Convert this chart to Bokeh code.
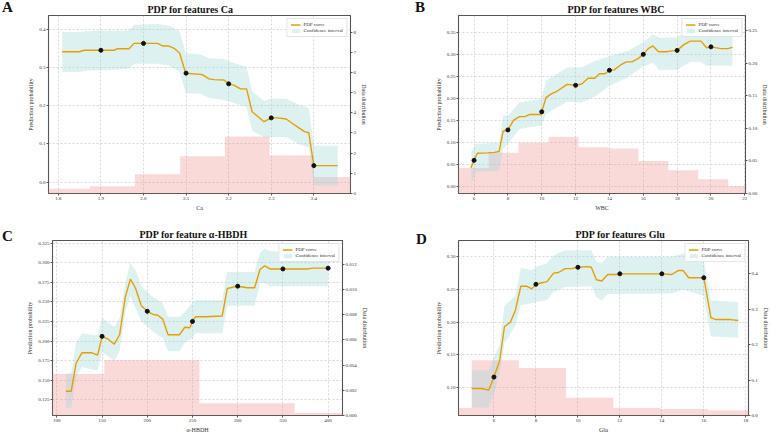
from bokeh.plotting import figure
from bokeh.models import (Range1d, LinearAxis, FixedTicker, PrintfTickFormatter,
                          Legend, LegendItem, Div)
from bokeh.layouts import row, column
from bokeh.embed import file_html
from bokeh.resources import INLINE

# ---------------- data ----------------
# Panel A : Ca
ca_hist_edges = [1.769, 1.874, 1.980, 2.086, 2.191, 2.296, 2.400, 2.505]
ca_hist_vals = [0.23, 0.36, 0.95, 1.85, 2.82, 1.88, 0.82]
ca_x = [1.809, 1.849, 1.861, 1.900, 1.931, 1.939, 1.966, 1.978, 2.000, 2.033, 2.046, 2.060,
        2.072, 2.085, 2.099, 2.133, 2.138, 2.154, 2.166, 2.189, 2.200, 2.213, 2.228, 2.242,
        2.255, 2.267, 2.283, 2.300, 2.314, 2.335, 2.349, 2.365, 2.378, 2.388, 2.400, 2.456]
ca_y = [0.341, 0.341, 0.345, 0.345, 0.345, 0.349, 0.349, 0.363, 0.363, 0.363, 0.356, 0.356,
        0.350, 0.337, 0.285, 0.282, 0.281, 0.270, 0.268, 0.267, 0.257, 0.253, 0.244, 0.244,
        0.184, 0.173, 0.158, 0.168, 0.168, 0.165, 0.154, 0.142, 0.132, 0.129, 0.043, 0.043]
ca_ci_x = [1.809, 1.849, 1.869, 1.900, 1.931, 1.966, 1.978, 2.033, 2.060, 2.085, 2.099, 2.134,
           2.154, 2.189, 2.213, 2.242, 2.255, 2.283, 2.300, 2.335, 2.365, 2.388, 2.400, 2.456]
ca_ci_hi = [0.393, 0.393, 0.395, 0.397, 0.397, 0.397, 0.412, 0.414, 0.409, 0.395, 0.337, 0.334,
            0.324, 0.322, 0.311, 0.302, 0.238, 0.212, 0.219, 0.218, 0.203, 0.194, 0.095, 0.095]
ca_ci_lo = [0.288, 0.288, 0.292, 0.292, 0.294, 0.297, 0.310, 0.310, 0.305, 0.289, 0.233, 0.231,
            0.220, 0.215, 0.207, 0.196, 0.134, 0.117, 0.118, 0.117, 0.099, 0.091, -0.009, -0.009]
ca_dot_x = [1.9, 2.0, 2.1, 2.2, 2.3, 2.4]
ca_dot_y = [0.345, 0.363, 0.285, 0.257, 0.168, 0.043]
ca_xticks = [1.8, 1.9, 2.0, 2.1, 2.2, 2.3, 2.4]
ca_yticks = [0.0, 0.1, 0.2, 0.3, 0.4]
ca_hticks = [0, 1, 2, 3, 4, 5, 6, 7, 8]

# Panel B : WBC
wbc_hist_edges = [5.0, 6.86, 8.63, 10.40, 12.17, 13.94, 15.71, 17.48, 19.25, 21.02, 22.79]
wbc_hist_vals = [0.039, 0.0624, 0.078, 0.087, 0.071, 0.069, 0.050, 0.0355, 0.022, 0.011]
wbc_x = [5.81, 6.00, 6.19, 6.80, 7.19, 7.48, 7.72, 8.00, 8.34, 8.68, 9.01, 9.30, 9.97, 10.00,
         10.25, 10.54, 10.92, 11.50, 12.00, 12.36, 12.74, 13.13, 13.41, 13.74, 14.00, 14.28,
         14.66, 15.00, 15.33, 15.71, 16.00, 16.29, 16.57, 16.90, 17.34, 17.72, 18.00, 18.40,
         18.78, 19.41, 19.74, 20.00, 20.60, 20.98, 21.27]
wbc_y = [0.043, 0.060, 0.076, 0.077, 0.078, 0.080, 0.126, 0.129, 0.151, 0.159, 0.159, 0.164,
         0.164, 0.170, 0.202, 0.210, 0.217, 0.232, 0.230, 0.233, 0.246, 0.246, 0.256, 0.256,
         0.264, 0.265, 0.276, 0.283, 0.283, 0.291, 0.300, 0.313, 0.319, 0.306, 0.306, 0.308,
         0.309, 0.322, 0.330, 0.330, 0.315, 0.317, 0.313, 0.313, 0.316]
wbc_ci_x = [5.85, 6.08, 6.80, 7.48, 7.72, 8.00, 8.68, 9.30, 9.97, 10.25, 11.50, 12.36, 13.13,
            14.00, 15.04, 16.02, 16.57, 16.96, 18.01, 18.78, 19.41, 19.74, 21.27]
wbc_ci_hi = [0.079, 0.097, 0.099, 0.100, 0.161, 0.161, 0.191, 0.195, 0.199, 0.240, 0.270, 0.271,
             0.285, 0.296, 0.307, 0.328, 0.345, 0.337, 0.339, 0.361, 0.361, 0.356, 0.356]
wbc_ci_lo = [0.007, 0.034, 0.036, 0.036, 0.086, 0.097, 0.131, 0.135, 0.139, 0.165, 0.193, 0.191,
             0.204, 0.229, 0.247, 0.273, 0.281, 0.264, 0.266, 0.283, 0.283, 0.274, 0.274]
wbc_dot_x = [6, 8, 10, 12, 14, 16, 18, 20]
wbc_dot_y = [0.060, 0.129, 0.170, 0.230, 0.264, 0.300, 0.309, 0.317]
wbc_xticks = [6, 8, 10, 12, 14, 16, 18, 20, 22]
wbc_yticks = [0.00, 0.05, 0.10, 0.15, 0.20, 0.25, 0.30, 0.35]
wbc_hticks = [0.00, 0.05, 0.10, 0.15, 0.20, 0.25]

# Panel C : alpha-HBDH
hb_hist_edges = [47.3, 152.5, 257.7, 363.0, 468.2]
hb_hist_vals = [0.0033, 0.00439, 0.00098, 0.0002]
hb_x = [110.0, 115.9, 121.4, 127.7, 138.8, 145.1, 150.0, 157.3, 163.5, 169.4, 175.7, 181.3,
        186.8, 193.5, 200.0, 206.4, 211.6, 217.1, 223.0, 235.6, 241.5, 247.0, 250.0, 253.3,
        264.4, 282.9, 288.4, 300.0, 310.6, 318.7, 324.6, 329.8, 335.7, 350.0, 377.0, 382.6, 400.0]
hb_y = [0.136, 0.136, 0.172, 0.185, 0.185, 0.182, 0.206, 0.202, 0.196, 0.208, 0.256, 0.279,
        0.268, 0.245, 0.238, 0.234, 0.233, 0.228, 0.208, 0.208, 0.2176, 0.217, 0.225, 0.231,
        0.231, 0.232, 0.267, 0.270, 0.268, 0.268, 0.291, 0.296, 0.292, 0.292, 0.292, 0.293, 0.293]
hb_ci_x = [110.0, 115.9, 121.4, 127.7, 145.1, 150.0, 163.5, 169.4, 175.7, 181.3, 186.8, 193.5,
           206.4, 217.1, 223.0, 235.6, 241.5, 250.0, 253.3, 282.9, 288.4, 318.7, 324.6, 329.8,
           335.7, 400.0]
hb_ci_hi = [0.158, 0.160, 0.198, 0.210, 0.207, 0.229, 0.218, 0.229, 0.274, 0.300, 0.291, 0.270,
            0.256, 0.249, 0.231, 0.231, 0.237, 0.249, 0.252, 0.252, 0.288, 0.288, 0.312, 0.318,
            0.315, 0.312]
hb_ci_lo = [0.115, 0.115, 0.154, 0.167, 0.162, 0.186, 0.175, 0.187, 0.237, 0.258, 0.243, 0.225,
            0.212, 0.204, 0.187, 0.187, 0.198, 0.204, 0.210, 0.210, 0.245, 0.245, 0.274, 0.274,
            0.270, 0.270]
hb_dot_x = [150, 200, 250, 300, 350, 400]
hb_dot_y = [0.206, 0.238, 0.225, 0.270, 0.292, 0.293]
hb_xticks = [100, 150, 200, 250, 300, 350, 400]
hb_yticks = [0.125, 0.150, 0.175, 0.200, 0.225, 0.250, 0.275, 0.300, 0.325]
hb_hticks = [0.000, 0.002, 0.004, 0.006, 0.008, 0.010, 0.012]

# Panel D : Glu
glu_hist_edges = [2.69, 4.94, 7.19, 9.44, 11.69, 13.94, 16.19, 18.44]
glu_hist_vals = [0.021, 0.156, 0.134, 0.050, 0.021, 0.018, 0.015]
glu_x = [4.94, 5.41, 5.75, 6.00, 6.27, 6.50, 6.78, 7.02, 7.28, 7.56, 7.80, 8.00, 8.22, 8.53,
         8.84, 9.08, 9.39, 9.70, 10.00, 10.44, 10.64, 10.88, 11.14, 11.42, 11.81, 12.00, 12.28,
         14.00, 14.47, 14.78, 15.02, 15.28, 16.00, 16.34, 16.58, 17.28, 17.64]
glu_y = [0.0985, 0.0985, 0.096, 0.116, 0.141, 0.193, 0.200, 0.218, 0.255, 0.255, 0.251, 0.258,
         0.260, 0.262, 0.275, 0.276, 0.282, 0.282, 0.284, 0.285, 0.284, 0.265, 0.263, 0.273,
         0.273, 0.274, 0.274, 0.274, 0.273, 0.279, 0.279, 0.268, 0.268, 0.207, 0.204, 0.204, 0.2025]
glu_ci_x = [4.94, 5.75, 6.00, 6.27, 6.50, 7.02, 7.28, 7.80, 8.00, 8.53, 8.84, 9.39, 10.64, 10.88,
            11.14, 11.42, 14.47, 15.02, 16.00, 16.34, 17.64]
glu_ci_hi = [0.126, 0.126, 0.146, 0.166, 0.225, 0.240, 0.283, 0.280, 0.285, 0.290, 0.302, 0.310,
             0.310, 0.293, 0.290, 0.300, 0.300, 0.305, 0.295, 0.233, 0.231]
glu_ci_lo = [0.070, 0.069, 0.091, 0.121, 0.168, 0.195, 0.226, 0.229, 0.231, 0.234, 0.246, 0.254,
             0.255, 0.238, 0.233, 0.243, 0.244, 0.250, 0.240, 0.178, 0.176]
glu_dot_x = [6, 8, 10, 12, 14, 16]
glu_dot_y = [0.116, 0.258, 0.284, 0.274, 0.274, 0.268]
glu_xticks = [6, 8, 10, 12, 14, 16, 18]
glu_yticks = [0.10, 0.15, 0.20, 0.25, 0.30]
glu_hticks = [0.0, 0.1, 0.2, 0.3, 0.4]

# ---------------- styling ----------------
FONT = "Liberation Serif"
ORANGE = "#e69f00"
CI_COLOR = "#9dd6d6"
PINK = "#f08080"


def style_axis(ax):
    ax.axis_line_color = None
    ax.major_tick_out = 2
    ax.major_tick_in = 0
    ax.minor_tick_line_color = None
    ax.major_tick_line_color = "#555555"
    ax.major_label_text_font = FONT
    ax.major_label_text_font_size = "5px"
    ax.major_label_text_color = "#333333"
    ax.major_label_standoff = 1
    ax.axis_label_text_font = FONT
    ax.axis_label_text_font_size = "6px"
    ax.axis_label_text_font_style = "normal"
    ax.axis_label_text_color = "#333333"
    ax.axis_label_standoff = 2


def panel(w, h, borders, xr, yr, hr, xticks, yticks, hticks, xfmt, yfmt, hfmt,
          xlabel, title, title_off, he, hv, cix, cilo, cihi, cx, cy, dx, dy):
    bl, br, bt, bb = borders
    p = figure(width=w, height=h, output_backend="svg", toolbar_location=None,
               x_range=Range1d(*xr), y_range=Range1d(*yr),
               min_border_left=bl, min_border_right=br, min_border_top=bt,
               min_border_bottom=bb, background_fill_color="white",
               border_fill_color="white")
    p.outline_line_color = "#555555"
    p.outline_line_width = 1.1
    p.extra_y_ranges = {"h": Range1d(*hr)}

    p.title.text = title
    p.title.align = "left"
    p.title.offset = title_off
    p.title.standoff = 2
    p.title.text_font = FONT
    p.title.text_font_style = "bold"
    p.title.text_font_size = "10px"
    p.title.text_color = "#111111"

    p.quad(left=he[:-1], right=he[1:], bottom=0, top=hv, y_range_name="h",
           fill_color=PINK, fill_alpha=0.3, line_color=None)
    ci_r = p.varea(x=cix, y1=cilo, y2=cihi, fill_color=CI_COLOR, fill_alpha=0.35)
    ln_r = p.line(cx, cy, line_color=ORANGE, line_width=1.4)
    p.scatter(dx, dy, size=4, color="#111111")

    style_axis(p.xaxis[0])
    style_axis(p.yaxis[0])
    p.xaxis[0].ticker = FixedTicker(ticks=xticks)
    p.xaxis[0].formatter = PrintfTickFormatter(format=xfmt)
    p.xaxis[0].axis_label = xlabel
    p.yaxis[0].ticker = FixedTicker(ticks=yticks)
    p.yaxis[0].formatter = PrintfTickFormatter(format=yfmt)
    p.yaxis[0].axis_label = "Prediction probability"

    rax = LinearAxis(y_range_name="h", axis_label="Data distribution",
                     ticker=FixedTicker(ticks=hticks),
                     formatter=PrintfTickFormatter(format=hfmt))
    style_axis(rax)
    p.add_layout(rax, "right")

    for g in (p.xgrid[0], p.ygrid[0]):
        g.grid_line_color = "#bbbbbb"
        g.grid_line_dash = "2 2"
        g.grid_line_width = 0.7
        g.grid_line_alpha = 0.8
    p.xgrid[0].ticker = FixedTicker(ticks=xticks)
    p.ygrid[0].ticker = FixedTicker(ticks=yticks)

    leg = Legend(items=[LegendItem(label="PDP curve", renderers=[ln_r]),
                        LegendItem(label="Confidence interval", renderers=[ci_r])],
                 location="top_right")
    leg.label_text_font = FONT
    leg.label_text_font_size = "5px"
    leg.label_text_color = "#333333"
    leg.label_height = 5
    leg.glyph_height = 5
    leg.glyph_width = 10
    leg.label_standoff = 3
    leg.spacing = 1
    leg.padding = 3
    leg.margin = 3
    leg.border_line_color = "#cccccc"
    leg.border_line_width = 0.8
    leg.background_fill_alpha = 0.85
    p.add_layout(leg)
    return p


def letter(t, left, top):
    html = ('<span style="font-family:\'Liberation Serif\',serif;font-weight:bold;'
            'font-size:15px;line-height:15px;color:#111111">%s</span>' % t)
    return Div(text=html, width=14, height=16, margin=0,
               styles={"position": "absolute", "left": "%dpx" % left,
                       "top": "%dpx" % top, "z-index": "10"})


pA = panel(385, 217, (48, 35, 13, 24), (1.777, 2.486), (-0.030, 0.436), (0, 8.82),
           ca_xticks, ca_yticks, ca_hticks, "%.1f", "%.1f", "%d",
           "Ca", "PDP for features Ca", 99,
           ca_hist_edges, ca_hist_vals, ca_ci_x, ca_ci_lo, ca_ci_hi,
           ca_x, ca_y, ca_dot_x, ca_dot_y)
pB = panel(386, 217, (73, 18, 14, 24), (5.08, 22.04), (-0.015, 0.388), (0, 0.273),
           wbc_xticks, wbc_yticks, wbc_hticks, "%d", "%.2f", "%.2f",
           "WBC", "PDP for features WBC", 109,
           wbc_hist_edges, wbc_hist_vals, wbc_ci_x, wbc_ci_lo, wbc_ci_hi,
           wbc_x, wbc_y, wbc_dot_x, wbc_dot_y)
pC = panel(385, 218, (52, 43, 23, 15), (95.2, 415.9), (0.105, 0.3283), (0, 0.0139),
           hb_xticks, hb_yticks, hb_hticks, "%d", "%.3f", "%.3f",
           "\u03b1-HBDH", "PDP for feature \u03b1-HBDH", 87,
           hb_hist_edges, hb_hist_vals, hb_ci_x, hb_ci_lo, hb_ci_hi,
           hb_x, hb_y, hb_dot_x, hb_dot_y)
pD = panel(386, 218, (73, 18, 23, 15), (4.31, 18.13), (0.0572, 0.325), (0, 0.494),
           glu_xticks, glu_yticks, glu_hticks, "%d", "%.2f", "%.1f",
           "Glu", "PDP for features Glu", 117,
           glu_hist_edges, glu_hist_vals, glu_ci_x, glu_ci_lo, glu_ci_hi,
           glu_x, glu_y, glu_dot_x, glu_dot_y)

layout = column(row(pA, pB), row(pC, pD),
                letter("A", 2, 0), letter("B", 415, 0),
                letter("C", 2, 229), letter("D", 416, 232))
open("out.html", "w").write(file_html(layout, INLINE))
